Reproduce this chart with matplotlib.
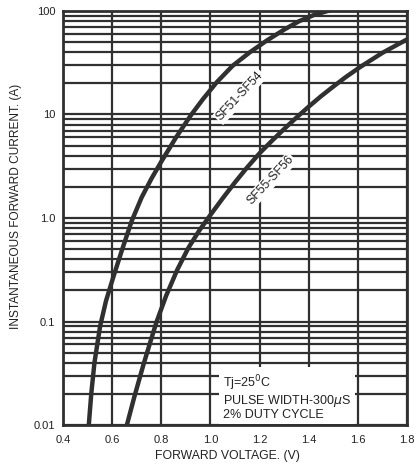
import matplotlib.pyplot as plt
from matplotlib.ticker import FixedLocator, LogLocator, NullFormatter

plt.rcParams['font.family'] = ['Liberation Sans', 'DejaVu Sans']

# curve data (forward voltage V, current A)
sf51_v = [0.505, 0.515, 0.528, 0.551, 0.575, 0.605, 0.64, 0.68, 0.72, 0.76, 0.80,
          0.86, 0.92, 0.97, 1.025, 1.09, 1.16, 1.23, 1.30, 1.36, 1.42, 1.49]
sf51_i = [0.01, 0.02, 0.04, 0.09, 0.158, 0.27, 0.49, 0.94, 1.58, 2.4, 3.5,
          6.0, 9.8, 14.1, 20.4, 29.5, 39.8, 51.9, 66, 79.4, 91.2, 102]

sf55_v = [0.66, 0.69, 0.727, 0.755, 0.78, 0.82, 0.865, 0.91, 0.955, 1.0, 1.05, 1.10,
          1.15, 1.20, 1.25, 1.30, 1.35, 1.40, 1.45, 1.50, 1.55, 1.61, 1.70, 1.80]
sf55_i = [0.01, 0.0186, 0.038, 0.063, 0.098, 0.178, 0.316, 0.513, 0.759, 1.07, 1.55,
          2.21, 3.09, 4.22, 5.56, 7.24, 9.33, 11.9, 15.0, 18.6, 22.9, 28.8, 39.4, 53.1]

x_ticks = [0.4, 0.6, 0.8, 1.0, 1.2, 1.4, 1.6, 1.8]
x_tick_labels = ['0.4', '0.6', '0.8', '1.0', '1.2', '1.4', '1.6', '1.8']
y_ticks = [0.01, 0.1, 1.0, 10, 100]
y_tick_labels = ['0.01', '0.1', '1.0', '10', '100']

INK = '#303030'
TXT = '#222222'

fig = plt.figure(figsize=(4.18, 4.70), dpi=100)
ax = fig.add_axes([0.1507, 0.0957, 0.823, 0.881])

ax.set_yscale('log')
ax.set_xlim(0.4, 1.8)
ax.set_ylim(0.01, 100)

# grid: every 0.2 V and every log minor step
ax.xaxis.set_major_locator(FixedLocator(x_ticks))
ax.set_xticklabels(x_tick_labels)
ax.yaxis.set_major_locator(FixedLocator(y_ticks))
ax.set_yticklabels(y_tick_labels)
ax.yaxis.set_minor_locator(LogLocator(base=10, subs=range(2, 10)))
ax.yaxis.set_minor_formatter(NullFormatter())
ax.grid(True, which='major', color=INK, linewidth=1.6)
ax.grid(True, which='minor', axis='y', color=INK, linewidth=1.6)
ax.set_axisbelow(True)

ax.tick_params(which='both', length=0, labelsize=8, colors=TXT)
ax.tick_params(axis='x', pad=7)
ax.tick_params(axis='y', pad=5.5)
for s in ax.spines.values():
    s.set_color(INK)
    s.set_linewidth(2)

ax.plot(sf51_v, sf51_i, color=INK, linewidth=3.2, solid_joinstyle='round', zorder=3)
ax.plot(sf55_v, sf55_i, color=INK, linewidth=3.2, solid_joinstyle='round', zorder=3)

box = dict(facecolor='white', edgecolor='none', pad=1.0)
ax.text(1.12, 15.0, 'SF51-SF54', rotation=47, fontsize=8.8, color=TXT,
        ha='center', va='center', bbox=box, zorder=4)
ax.text(1.244, 2.3, 'SF55-SF56', rotation=47, fontsize=8.8, color=TXT,
        ha='center', va='center', bbox=box, zorder=4)

ax.text(1.051, 0.0187, 'Tj=25$^0$C\nPULSE WIDTH-300$\\mu$S\n2% DUTY CYCLE',
        fontsize=9, color=TXT, ha='left', va='center', linespacing=1.0,
        bbox=dict(facecolor='white', edgecolor='none', pad=2.5), zorder=4)

ax.set_xlabel('FORWARD VOLTAGE. (V)', fontsize=8.8, color=TXT)
ax.xaxis.set_label_coords(0.477, -0.06)
ax.set_ylabel('INSTANTANEOUS FORWARD CURRENT. (A)', fontsize=8.6, color=TXT)
ax.yaxis.set_label_coords(-0.118, 0.529)

fig.savefig('out.png', dpi=100)
